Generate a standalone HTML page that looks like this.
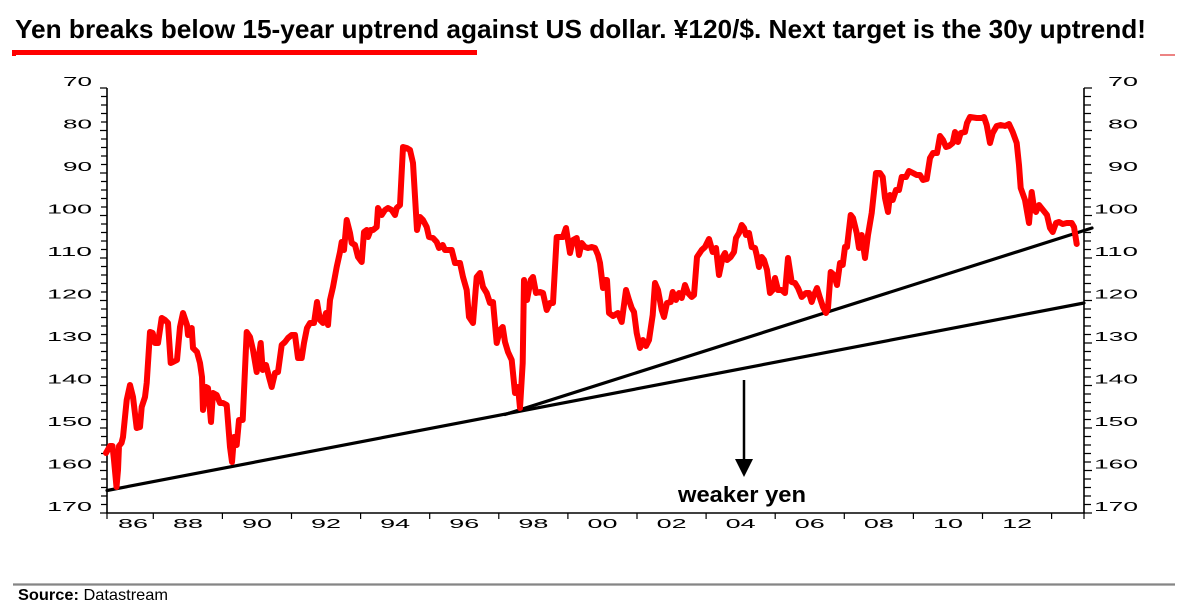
<!DOCTYPE html>
<html>
<head>
<meta charset="utf-8">
<style>
  html, body { margin: 0; padding: 0; background: #fff; }
  body { width: 1184px; height: 610px; overflow: hidden; }
  svg { display: block; }
  text { font-family: "Liberation Sans", Arial, sans-serif; fill: #000; }
</style>
</head>
<body>
<svg width="1184" height="610" viewBox="0 0 1184 610" xmlns="http://www.w3.org/2000/svg">
  <rect x="0" y="0" width="1184" height="610" fill="#fff"/>

  <!-- Title -->
  <text x="15" y="38" font-size="26" font-weight="bold" fill="#0a0a0a" textLength="1131" lengthAdjust="spacingAndGlyphs">Yen breaks below 15-year uptrend against US dollar. ¥120/$. Next target is the 30y uptrend!</text>
  <rect x="12" y="50" width="465" height="5" fill="#ff0000"/>
  <rect x="12" y="50" width="4" height="6" fill="#ff0000"/>
  <line x1="1160" y1="55" x2="1175" y2="55" stroke="#e03030" stroke-width="1.2"/>

  <!-- Axes -->
  <g stroke="#000" stroke-width="1.6" fill="none">
    <line x1="107" y1="88" x2="107" y2="513"/>
    <line x1="1084" y1="88" x2="1084" y2="513"/>
    <line x1="106.2" y1="513" x2="1084.8" y2="513"/>
  </g>

  <!-- Y ticks left -->
  <path stroke="#000" stroke-width="1.2" fill="none" d="
  M100 88H107 M101 96.5H107 M101 105H107 M101 113.5H107 M101 122H107 M100 130.5H107 M101 139H107 M101 147.5H107 M101 156H107 M101 164.5H107
  M100 173H107 M101 181.5H107 M101 190H107 M101 198.5H107 M101 207H107 M100 215.5H107 M101 224H107 M101 232.5H107 M101 241H107 M101 249.5H107
  M100 258H107 M101 266.5H107 M101 275H107 M101 283.5H107 M101 292H107 M100 300.5H107 M101 309H107 M101 317.5H107 M101 326H107 M101 334.5H107
  M100 343H107 M101 351.5H107 M101 360H107 M101 368.5H107 M101 377H107 M100 385.5H107 M101 394H107 M101 402.5H107 M101 411H107 M101 419.5H107
  M100 428H107 M101 436.5H107 M101 445H107 M101 453.5H107 M101 462H107 M100 470.5H107 M101 479H107 M101 487.5H107 M101 496H107 M101 504.5H107
  M100 513H107"/>
  <!-- Y ticks right -->
  <path stroke="#000" stroke-width="1.2" fill="none" d="
  M1084 88H1092 M1084 96.5H1091 M1084 105H1091 M1084 113.5H1091 M1084 122H1091 M1084 130.5H1092 M1084 139H1091 M1084 147.5H1091 M1084 156H1091 M1084 164.5H1091
  M1084 173H1092 M1084 181.5H1091 M1084 190H1091 M1084 198.5H1091 M1084 207H1091 M1084 215.5H1092 M1084 224H1091 M1084 232.5H1091 M1084 241H1091 M1084 249.5H1091
  M1084 258H1092 M1084 266.5H1091 M1084 275H1091 M1084 283.5H1091 M1084 292H1091 M1084 300.5H1092 M1084 309H1091 M1084 317.5H1091 M1084 326H1091 M1084 334.5H1091
  M1084 343H1092 M1084 351.5H1091 M1084 360H1091 M1084 368.5H1091 M1084 377H1091 M1084 385.5H1092 M1084 394H1091 M1084 402.5H1091 M1084 411H1091 M1084 419.5H1091
  M1084 428H1092 M1084 436.5H1091 M1084 445H1091 M1084 453.5H1091 M1084 462H1091 M1084 470.5H1092 M1084 479H1091 M1084 487.5H1091 M1084 496H1091 M1084 504.5H1091
  M1084 513H1092"/>
  <!-- X ticks -->
  <path stroke="#000" stroke-width="1.2" fill="none" d="
  M107 513V519 M153.3 513V519 M222.4 513V519 M291.5 513V519 M360.6 513V519 M429.7 513V519 M498.8 513V519 M567.9 513V519
  M637 513V519 M706.1 513V519 M775.2 513V519 M844.3 513V519 M913.4 513V519 M982.5 513V519 M1051.6 513V519 M1084 513V519"/>

  <!-- Y labels left -->
  <g font-size="13">
    <text x="63" y="86" textLength="29" lengthAdjust="spacingAndGlyphs">70</text>
    <text x="63" y="128.5" textLength="29" lengthAdjust="spacingAndGlyphs">80</text>
    <text x="63" y="171" textLength="29" lengthAdjust="spacingAndGlyphs">90</text>
    <text x="47" y="213.5" textLength="45" lengthAdjust="spacingAndGlyphs">100</text>
    <text x="47" y="256" textLength="45" lengthAdjust="spacingAndGlyphs">110</text>
    <text x="47" y="298.5" textLength="45" lengthAdjust="spacingAndGlyphs">120</text>
    <text x="47" y="341" textLength="45" lengthAdjust="spacingAndGlyphs">130</text>
    <text x="47" y="383.5" textLength="45" lengthAdjust="spacingAndGlyphs">140</text>
    <text x="47" y="426" textLength="45" lengthAdjust="spacingAndGlyphs">150</text>
    <text x="47" y="468.5" textLength="45" lengthAdjust="spacingAndGlyphs">160</text>
    <text x="47" y="511" textLength="45" lengthAdjust="spacingAndGlyphs">170</text>
  </g>
  <!-- Y labels right -->
  <g font-size="13">
    <text x="1108" y="86" textLength="30" lengthAdjust="spacingAndGlyphs">70</text>
    <text x="1108" y="128.5" textLength="30" lengthAdjust="spacingAndGlyphs">80</text>
    <text x="1108" y="171" textLength="30" lengthAdjust="spacingAndGlyphs">90</text>
    <text x="1094" y="213.5" textLength="44" lengthAdjust="spacingAndGlyphs">100</text>
    <text x="1094" y="256" textLength="44" lengthAdjust="spacingAndGlyphs">110</text>
    <text x="1094" y="298.5" textLength="44" lengthAdjust="spacingAndGlyphs">120</text>
    <text x="1094" y="341" textLength="44" lengthAdjust="spacingAndGlyphs">130</text>
    <text x="1094" y="383.5" textLength="44" lengthAdjust="spacingAndGlyphs">140</text>
    <text x="1094" y="426" textLength="44" lengthAdjust="spacingAndGlyphs">150</text>
    <text x="1094" y="468.5" textLength="44" lengthAdjust="spacingAndGlyphs">160</text>
    <text x="1094" y="511" textLength="44" lengthAdjust="spacingAndGlyphs">170</text>
  </g>
  <!-- X labels -->
  <g font-size="12.5">
    <text x="118" y="528" textLength="30" lengthAdjust="spacingAndGlyphs">86</text>
    <text x="173" y="528" textLength="30" lengthAdjust="spacingAndGlyphs">88</text>
    <text x="242" y="528" textLength="30" lengthAdjust="spacingAndGlyphs">90</text>
    <text x="311" y="528" textLength="30" lengthAdjust="spacingAndGlyphs">92</text>
    <text x="380.2" y="528" textLength="30" lengthAdjust="spacingAndGlyphs">94</text>
    <text x="449.3" y="528" textLength="30" lengthAdjust="spacingAndGlyphs">96</text>
    <text x="518.4" y="528" textLength="30" lengthAdjust="spacingAndGlyphs">98</text>
    <text x="587.5" y="528" textLength="30" lengthAdjust="spacingAndGlyphs">00</text>
    <text x="656.6" y="528" textLength="30" lengthAdjust="spacingAndGlyphs">02</text>
    <text x="725.7" y="528" textLength="30" lengthAdjust="spacingAndGlyphs">04</text>
    <text x="794.8" y="528" textLength="30" lengthAdjust="spacingAndGlyphs">06</text>
    <text x="863.9" y="528" textLength="30" lengthAdjust="spacingAndGlyphs">08</text>
    <text x="933" y="528" textLength="30" lengthAdjust="spacingAndGlyphs">10</text>
    <text x="1002.1" y="528" textLength="30" lengthAdjust="spacingAndGlyphs">12</text>
  </g>

  <!-- Trend lines -->
  <g stroke="#000" stroke-width="3.2" stroke-linecap="round" fill="none">
    <line x1="107" y1="490.5" x2="1084" y2="303"/>
    <line x1="505" y1="414.5" x2="1092" y2="228"/>
  </g>

  <!-- Red series -->
  <polyline fill="none" stroke="#ff0000" stroke-width="6" stroke-linejoin="round" stroke-linecap="round" points="
  106,453 110,446 112.5,446 114,460 116.5,487 118,470 119,446 121.5,443 123,437 126.7,400 130,385 133,397 136.7,428 140,427 141.7,407 145,397 146.7,383 150,332 152.7,333 155,343 158,343 161.7,318 165,320 168,323 170.7,363 173,362 177,360 180,327 183,313 187,325 188,335 191.7,328 193,348 197,352 200,363 202,377 203,410 206,387 208,388 211,422 213,393 216.7,395 220,403 223,403 226.7,405 230,447 232,462 234,437 236.7,445 239,420 242.7,420 246.7,332 250,337 253,350 256.7,372 260.7,343 262.7,370 266,365 269,377 271.7,387 275,373 278,372 281.7,345 285,342 288,338 291.7,335 295,335 298,358 301.7,358 304,343 307,328 310,323 314,323 317,302 320,320 323,323 326,313 328,325 330,300 333,287 336.7,267 340,252 341.7,242 344,250 346.7,220 350,233 351.7,243 355,245 358,257 361.7,262 364,232 366.7,230 368,237 370.7,230 373,230 376.7,227 378,208 381.7,215 385,210 388,208 391.7,210 395,215 396.7,208 400,205 403,147 406.7,148 410,150 413,163 417,230 420,217 423,220 426.7,227 429,237 433,238 436.7,242 439,248 442.7,245 445,250 448,250 451.7,250 455,263 460,263 463,277 466.7,290 469,317 473,323 476.7,277 480,273 483,287 486.7,293 490,303 493,302 496.7,343 500,330 502.7,327 505,342 508,352 511.7,360 515,393 518,387 520,408 522.7,363 524,280 527,300 530.7,280 533,277 536,293 540,292 543,293 546.7,310 550,303 553,303 556.7,237 560,237 563,237 566,228 570,253 573,240 576.7,238 579,255 581.7,243 585,247 588,248 591.7,247 595,248 598,255 600,263 603,288 605,280 607,280 609,313 613,316 618,313 621.7,322 626,290 629,300 631.7,308 634,312 636.7,333 640,348 643,340 646,346 649,340 652.7,315 655,283 658,290 661.7,310 664,317 667,303 670.7,302 672.7,292 676,300 679,293 681.7,298 685,285 688,293 691.7,297 694,295 697,257 701.7,250 705,247 709,239 712.7,252 716,248 719,275 722.7,257 725,253 727,260 730.7,257 734,252 736,238 739,233 741.7,225 744,228 746,235 749,233 751.7,247 755,248 756.7,255 759,267 761.7,257 764,260 767,270 770,293 772.7,290 775,278 778,290 781.7,290 785,293 788,258 791.7,282 795,283 798,288 801.7,297 806,293 809,293 811.7,302 814,295 817,288 820,298 823,307 826,313 828,308 830.7,272 834,275 837,285 840,263 842.7,265 845,247 847,247 850.7,215 853,218 856.7,233 859,248 861.7,235 865,258 868,235 871.7,213 876,173 880,173 882.7,177 885,198 888,212 890,195 892.7,200 896,190 899,190 901.7,177 906,177 909,171 913,173 916.7,175 920,175 923,180 926.7,179 930,158 933,153 937,153 940,136 943,140 946,147 949,146 952.7,143 955,132 958,142 960.7,133 965,132 967,123 970,117 976.7,118 981.7,118 984,117 986.7,125 990,143 992.7,133 996.7,126 1000.7,125 1005,126 1009,124 1012.7,132 1016.7,143 1019,165 1020.7,188 1025,200 1029,223 1031.7,192 1034,208 1036,212 1039,205 1043,210 1047,215 1050,228 1052.7,232 1056,223 1059,222 1062.7,224 1066.7,223 1071.7,223 1074,227 1076.7,244"/>

  <!-- Arrow + annotation -->
  <line x1="744" y1="380" x2="744" y2="462" stroke="#000" stroke-width="2.5"/>
  <polygon points="735,459 753,459 744,477" fill="#000"/>
  <text x="678" y="502" font-size="22" font-weight="bold" textLength="128" lengthAdjust="spacingAndGlyphs">weaker yen</text>

  <!-- Footer -->
  <line x1="13" y1="584.5" x2="1175" y2="584.5" stroke="#858585" stroke-width="2.3"/>
  <text x="18" y="600" font-size="16" textLength="150" lengthAdjust="spacingAndGlyphs"><tspan font-weight="bold">Source:</tspan> Datastream</text>
</svg>
</body>
</html>
